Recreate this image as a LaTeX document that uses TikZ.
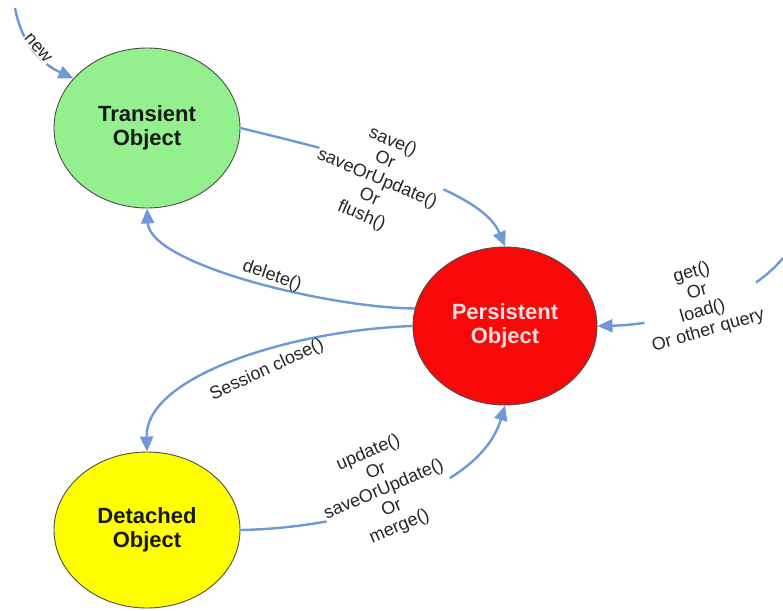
\documentclass[tikz,border=0pt]{standalone}
\usepackage{fontspec}
\setmainfont{Liberation Sans}
\usetikzlibrary{shapes.geometric,arrows.meta}
\definecolor{arr}{HTML}{6E98D6}
\definecolor{tgreen}{HTML}{94F08E}
\definecolor{pred}{HTML}{F80808}
\definecolor{dyellow}{HTML}{FFFF00}
\definecolor{ptext}{HTML}{F6DCDC}
\begin{document}
\begin{tikzpicture}[x=1pt,y=-1pt,
  state/.style={ellipse, draw=black!70, line width=0.9pt, inner sep=0pt,
    font=\fontsize{22}{24}\selectfont\bfseries, align=center},
  conn/.style={draw=arr, line width=2.4pt, -{Triangle[length=15pt,width=13pt]}},
  lbl/.style={font=\fontsize{18}{20}\selectfont, text=black!85, align=center, inner sep=1pt},
  wlbl/.style={lbl, fill=white}]
\useasboundingbox (0,0) rectangle (783,610);
\node[state, fill=tgreen, text=black!90, minimum width=186pt, minimum height=160pt] (T) at (147,128) {Transient\\Object};
\node[state, fill=pred, text=ptext, minimum width=184pt, minimum height=158pt] (P) at (505,326) {Persistent\\Object};
\node[state, fill=dyellow, text=black!90, minimum width=186pt, minimum height=156pt] (D) at (147,530) {Detached\\Object};
\coordinate (ns) at (15,8);
\coordinate (gs) at (783,258);
% connectors
\draw[conn] (ns) .. controls (22,45) and (42,64) .. (T.146);
\draw[conn] (T.east) .. controls (330,150) and (480,185) .. (P.north);
\draw[conn] (P.169) .. controls (330,308) and (150,265) .. (T.south);
\draw[conn] (P.west) .. controls (295,330) and (145,375) .. (D.north);
\draw[conn] (D.east) .. controls (350,528) and (480,490) .. (P.south);
\draw[conn] (gs) .. controls (740,310) and (650,325) .. (P.east);
% labels
\node[wlbl, rotate=-50] (lnew) at (38,48) {new};
\node[wlbl, rotate=-23] (lsave) at (377,179) {save()\\Or\\saveOrUpdate()\\Or\\flush()};
\node[lbl, rotate=-19] (ldel) at (272,276) {delete()};
\node[lbl, rotate=25] (lsess) at (267,370) {Session close()};
\node[wlbl, rotate=23] (lupd) at (384,490) {update()\\Or\\saveOrUpdate()\\Or\\merge()};
\node[wlbl, rotate=16] (lget) at (700,302) {get()\\Or\\load()\\Or other query};
\end{tikzpicture}
\end{document}
